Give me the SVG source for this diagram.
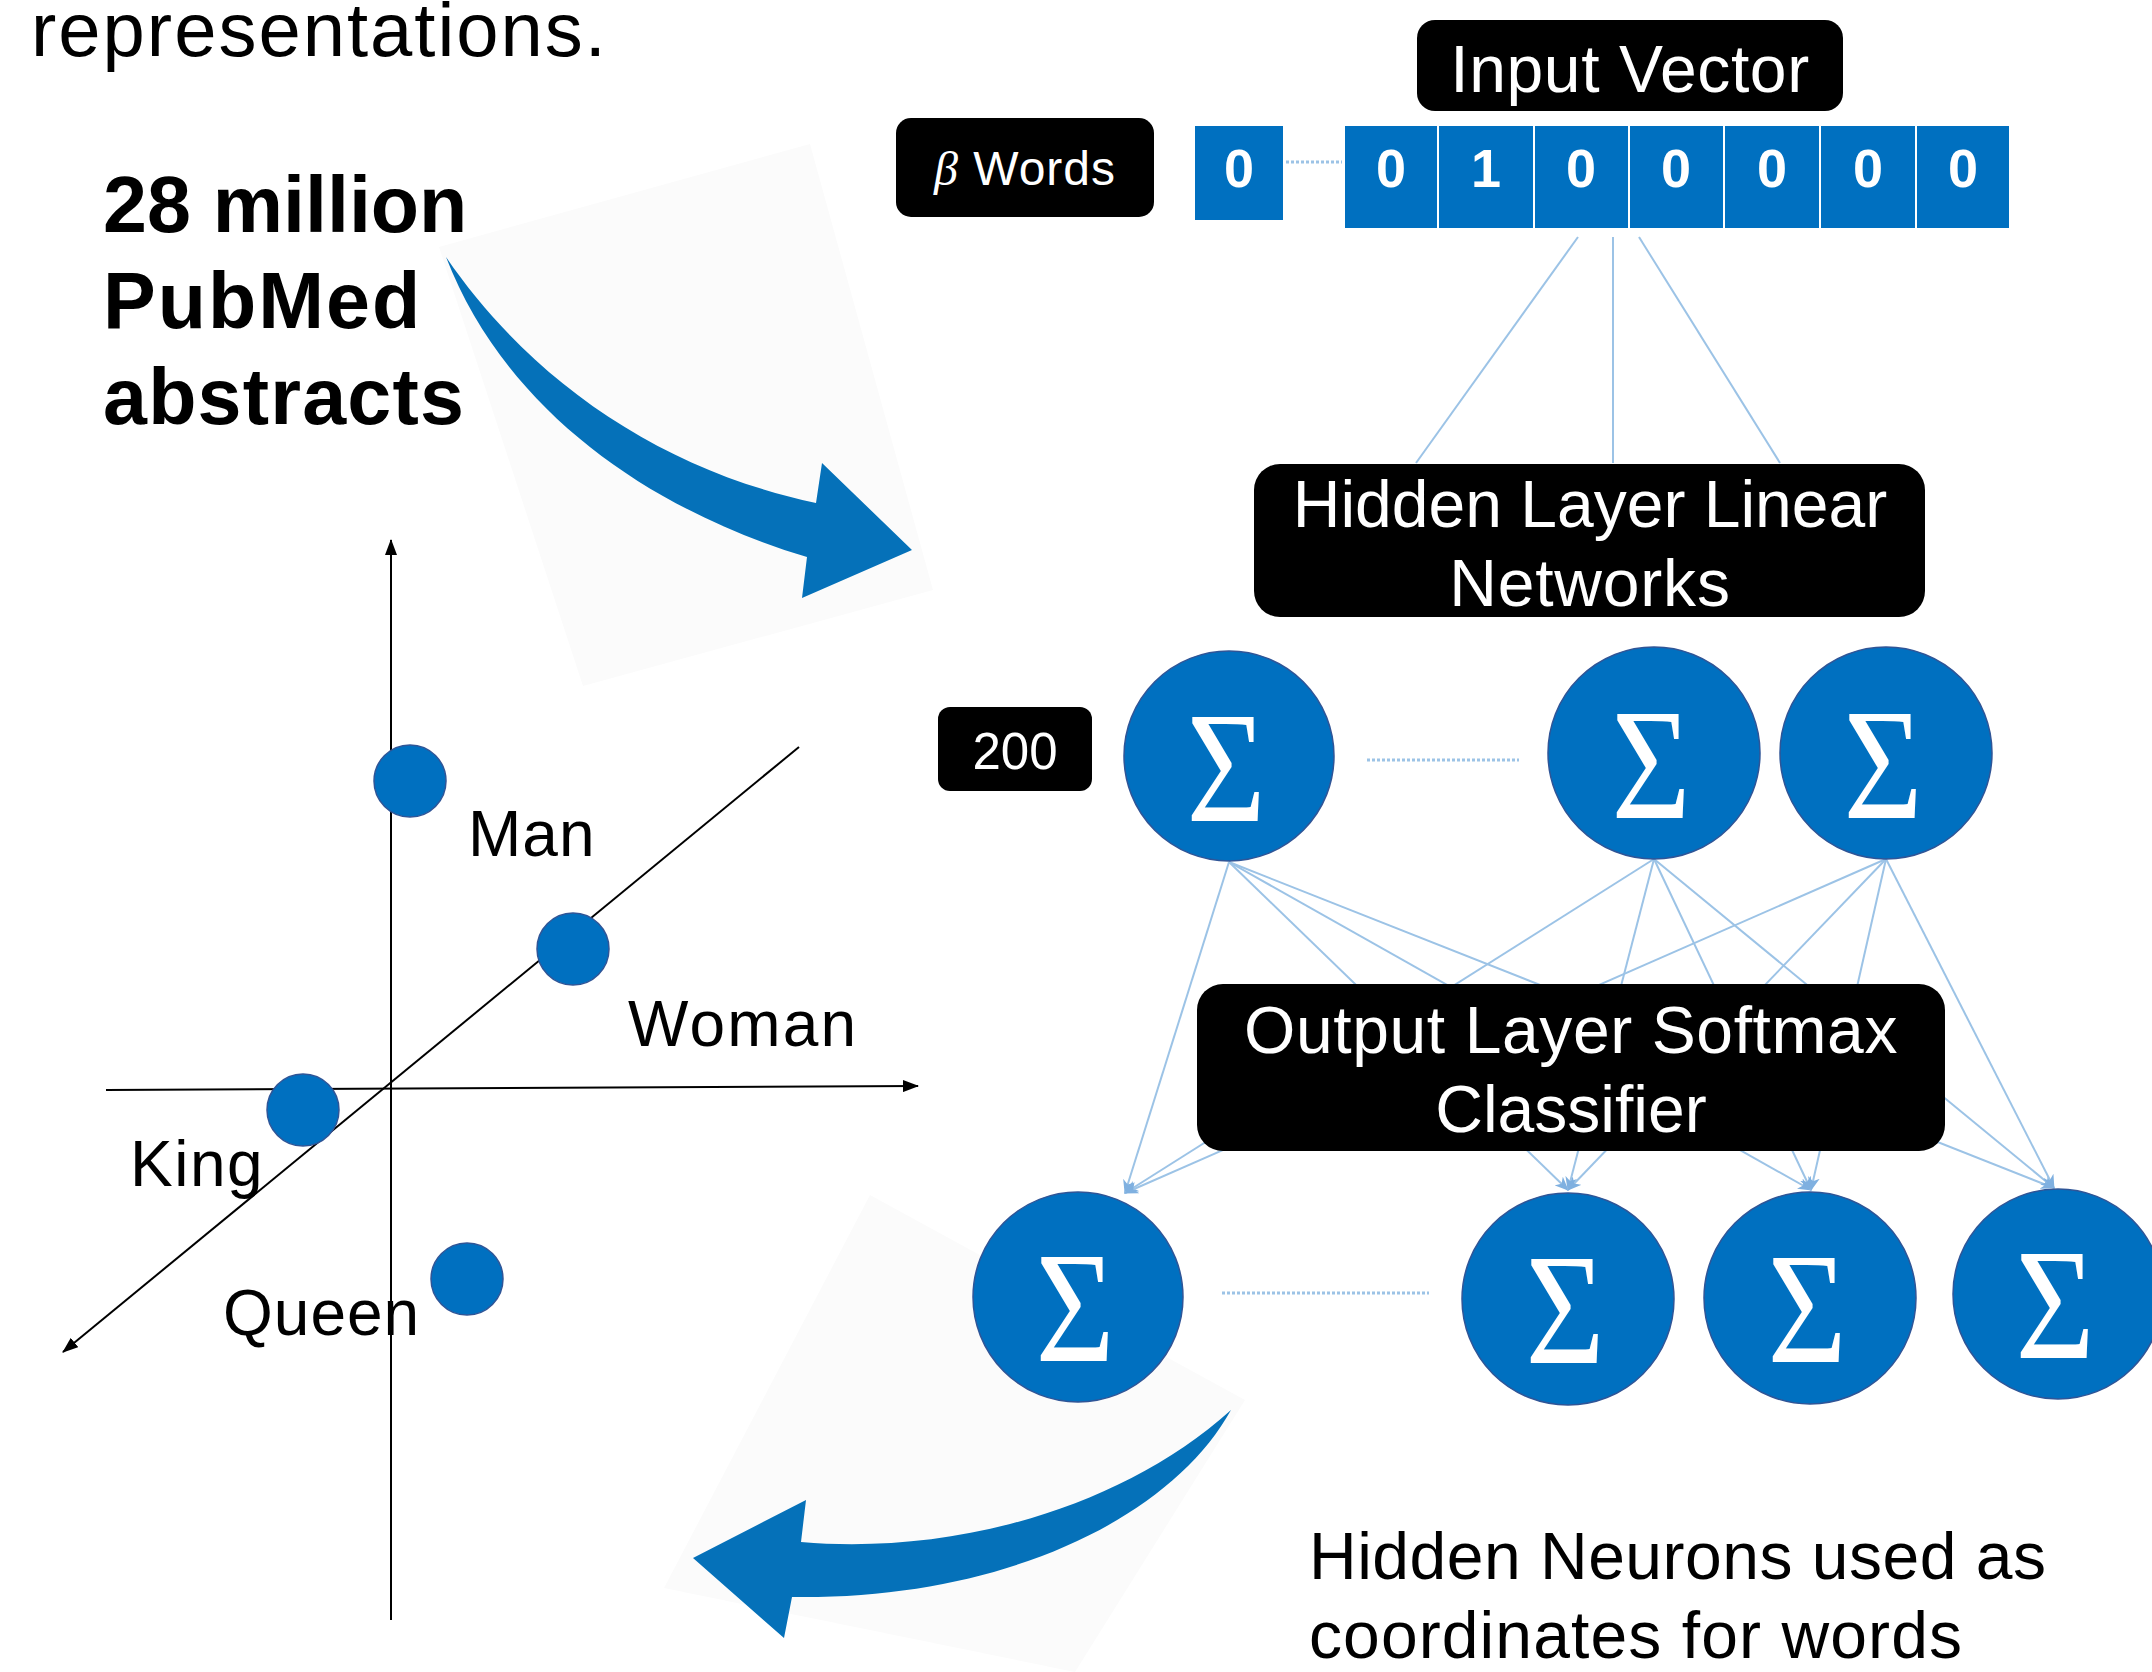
<svg xmlns="http://www.w3.org/2000/svg" width="2152" height="1672" viewBox="0 0 2152 1672">
<defs>
<style>
.t{font-family:"Liberation Sans",Arial,sans-serif;fill:#000}
.w{font-family:"Liberation Sans",Arial,sans-serif;fill:#fff}
.b{font-weight:bold}
.lbl{font-size:66px}
.box{fill:#000}
.cell{fill:#0070c0;stroke:#fff;stroke-width:2}
.dig{font-family:"Liberation Sans",Arial,sans-serif;font-weight:bold;font-size:54px;fill:#fff;text-anchor:middle}
.neuron{fill:#0070c0;stroke:#2f5597;stroke-width:1.5}
.sig{font-family:"Liberation Serif","Times New Roman",serif;font-size:160px;fill:#fff;text-anchor:middle}
.conn{stroke:#9cc3e6;stroke-width:2;fill:none}
.dots{stroke:#9cc3e6;stroke-width:3;stroke-dasharray:3 2;fill:none}
.axis{stroke:#000;stroke-width:2;fill:none}
.pt{fill:#0070c0;stroke:#2f5597;stroke-width:1.5}
.bigarrow{fill:#0571b9}
.faint{fill:#fbfbfb}
</style>
<marker id="ah" viewBox="0 0 14 12" refX="13" refY="6" markerWidth="14" markerHeight="12" markerUnits="userSpaceOnUse" orient="auto">
<path d="M0,0 L14,6 L0,12 L4,6 z" fill="#7fb0e0"/>
</marker>
<marker id="ak" viewBox="0 0 16 12" refX="15" refY="6" markerWidth="16" markerHeight="12" markerUnits="userSpaceOnUse" orient="auto">
<path d="M0,0 L16,6 L0,12 z" fill="#000"/>
</marker>
</defs>
<rect width="2152" height="1672" fill="#fff"/>

<!-- faint backgrounds behind big arrows -->
<polygon class="faint" points="439,247 810,144 933,590 583,686"/>
<polygon class="faint" points="870,1195 1245,1400 1075,1672 664,1588"/>

<!-- left texts -->
<g id="title">
<text class="t" x="31" y="56" font-size="76" letter-spacing="2">representations.</text>
</g>
<g id="corpus">
<text class="t b" x="103" y="232" font-size="79">28 million</text>
<text class="t b" x="103" y="328" font-size="79" letter-spacing="2">PubMed</text>
<text class="t b" x="103" y="424" font-size="79" letter-spacing="1.2">abstracts</text>
</g>

<!-- big arrows -->
<g id="arrow-in">
<path class="bigarrow" d="M446,257 C505,410 650,510 807,557 L802,598 L912,550 L822,463 L816,503 C660,470 530,380 446,257 Z"/>
</g>
<g id="arrow-out">
<path class="bigarrow" d="M1231,1410 C1170,1520 1000,1600 792,1597 L784,1638 L693,1558 L806,1500 L801,1542 C950,1555 1120,1510 1231,1410 Z"/>
</g>

<!-- connectors -->
<g id="connectors">
<line class="conn" x1="1578" y1="237" x2="1416" y2="463"/>
<line class="conn" x1="1613" y1="237" x2="1613" y2="463"/>
<line class="conn" x1="1639" y1="237" x2="1780" y2="463"/>
<line class="dots" x1="1286" y1="162" x2="1342" y2="162"/>
<line class="dots" x1="1367" y1="760" x2="1519" y2="760"/>
<line class="dots" x1="1222" y1="1293" x2="1429" y2="1293"/>
<g marker-end="url(#ah)">
<line class="conn" x1="1229" y1="862" x2="1125" y2="1193"/>
<line class="conn" x1="1229" y1="862" x2="1568" y2="1190"/>
<line class="conn" x1="1229" y1="862" x2="1811" y2="1190"/>
<line class="conn" x1="1229" y1="862" x2="2054" y2="1188"/>
<line class="conn" x1="1654" y1="859" x2="1125" y2="1193"/>
<line class="conn" x1="1654" y1="859" x2="1568" y2="1190"/>
<line class="conn" x1="1654" y1="859" x2="1811" y2="1190"/>
<line class="conn" x1="1654" y1="859" x2="2054" y2="1188"/>
<line class="conn" x1="1886" y1="859" x2="1125" y2="1193"/>
<line class="conn" x1="1886" y1="859" x2="1568" y2="1190"/>
<line class="conn" x1="1886" y1="859" x2="1811" y2="1190"/>
<line class="conn" x1="1886" y1="859" x2="2054" y2="1188"/>
</g>
</g>

<!-- input vector -->
<g id="input-vector-label">
<rect class="box" x="1417" y="20" width="426" height="91" rx="18"/>
<text class="w lbl" x="1630" y="92" text-anchor="middle" letter-spacing="0.6">Input Vector</text>
</g>
<g id="beta-words">
<rect class="box" x="896" y="118" width="258" height="99" rx="15"/>
<text class="w" x="1025" y="185" font-size="48" text-anchor="middle" letter-spacing="1"><tspan font-family="'Liberation Serif',serif" font-style="italic">β</tspan> Words</text>
</g>
<g id="cell-first">
<rect class="cell" x="1194" y="125" width="90" height="96"/>
<text class="dig" x="1239" y="187">0</text>
</g>
<g id="input-cells">
<rect class="cell" x="1344" y="125" width="94" height="104"/>
<rect class="cell" x="1438" y="125" width="96" height="104"/>
<rect class="cell" x="1534" y="125" width="95" height="104"/>
<rect class="cell" x="1629" y="125" width="95" height="104"/>
<rect class="cell" x="1724" y="125" width="96" height="104"/>
<rect class="cell" x="1820" y="125" width="96" height="104"/>
<rect class="cell" x="1916" y="125" width="94" height="104"/>
<text class="dig" x="1391" y="187">0</text>
<text class="dig" x="1486" y="187">1</text>
<text class="dig" x="1581" y="187">0</text>
<text class="dig" x="1676" y="187">0</text>
<text class="dig" x="1772" y="187">0</text>
<text class="dig" x="1868" y="187">0</text>
<text class="dig" x="1963" y="187">0</text>
</g>

<!-- hidden layer -->
<g id="hidden-label">
<rect class="box" x="1254" y="464" width="671" height="153" rx="26"/>
<text class="w lbl" x="1590" y="527" text-anchor="middle">Hidden Layer Linear</text>
<text class="w lbl" x="1590" y="606" text-anchor="middle" letter-spacing="0.8">Networks</text>
</g>
<g id="size-200">
<rect class="box" x="938" y="707" width="154" height="84" rx="12"/>
<text class="w" x="1015" y="769" font-size="51" text-anchor="middle">200</text>
</g>
<g id="h1">
<circle class="neuron" cx="1229" cy="756" r="105"/>
<text class="sig" transform="translate(1226,821) scale(0.85,1)">Σ</text>
</g>
<g id="h2">
<circle class="neuron" cx="1654" cy="753" r="106"/>
<text class="sig" transform="translate(1651,818) scale(0.85,1)">Σ</text>
</g>
<g id="h3">
<circle class="neuron" cx="1886" cy="753" r="106"/>
<text class="sig" transform="translate(1883,818) scale(0.85,1)">Σ</text>
</g>

<!-- output layer -->
<g id="output-label">
<rect class="box" x="1197" y="984" width="748" height="167" rx="26"/>
<text class="w lbl" x="1571" y="1053" text-anchor="middle" letter-spacing="0.6">Output Layer Softmax</text>
<text class="w lbl" x="1571" y="1132" text-anchor="middle">Classifier</text>
</g>
<g id="o1">
<circle class="neuron" cx="1078" cy="1297" r="105"/>
<text class="sig" transform="translate(1075,1361) scale(0.85,1)">Σ</text>
</g>
<g id="o2">
<circle class="neuron" cx="1568" cy="1299" r="106"/>
<text class="sig" transform="translate(1565,1363) scale(0.85,1)">Σ</text>
</g>
<g id="o3">
<circle class="neuron" cx="1810" cy="1298" r="106"/>
<text class="sig" transform="translate(1807,1362) scale(0.85,1)">Σ</text>
</g>
<g id="o4">
<circle class="neuron" cx="2058" cy="1294" r="105"/>
<text class="sig" transform="translate(2055,1358) scale(0.85,1)">Σ</text>
</g>

<!-- caption -->
<g id="caption">
<text class="t lbl" x="1309" y="1579" letter-spacing="0.5">Hidden Neurons used as</text>
<text class="t lbl" x="1309" y="1658" letter-spacing="1.1">coordinates for words</text>
</g>

<!-- word embedding chart -->
<g id="chart-axes">
<line class="axis" x1="391" y1="1620" x2="391" y2="540" marker-end="url(#ak)"/>
<line class="axis" x1="106" y1="1090" x2="918" y2="1086" marker-end="url(#ak)"/>
<line class="axis" x1="799" y1="747" x2="63" y2="1352" marker-end="url(#ak)"/>
</g>
<g id="pt-man">
<circle class="pt" cx="410" cy="781" r="36"/>
<text class="t" x="468" y="856" font-size="64" letter-spacing="1">Man</text>
</g>
<g id="pt-woman">
<circle class="pt" cx="573" cy="949" r="36"/>
<text class="t" x="628" y="1046" font-size="64" letter-spacing="2.2">Woman</text>
</g>
<g id="pt-king">
<circle class="pt" cx="303" cy="1110" r="36"/>
<text class="t" x="130" y="1186" font-size="64" letter-spacing="1.5">King</text>
</g>
<g id="pt-queen">
<circle class="pt" cx="467" cy="1279" r="36"/>
<text class="t" x="223" y="1335" font-size="64" letter-spacing="1">Queen</text>
</g>
</svg>
